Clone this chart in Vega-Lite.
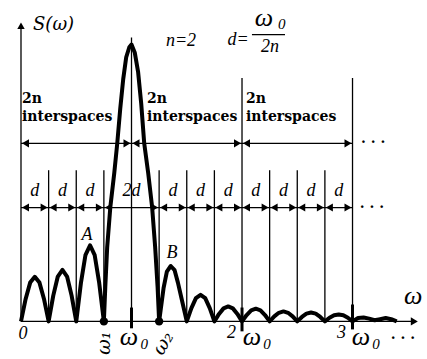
{
  "$schema": "https://vega.github.io/schema/vega-lite/v6.json",
  "width": 427,
  "height": 359,
  "autosize": {"type": "fit", "contains": "padding"},
  "padding": 0,
  "background": "white",
  "config": {"view": {"stroke": null}},
  "datasets": {
    "curve": [
      {"x":0,"s":0},{"x":0.042,"s":0.081},{"x":0.083,"s":0.14},{"x":0.125,"s":0.161},{"x":0.167,"s":0.14},{"x":0.208,"s":0.081},{"x":0.25,"s":0},
      {"x":0.292,"s":0.093},{"x":0.333,"s":0.162},{"x":0.375,"s":0.186},{"x":0.417,"s":0.162},{"x":0.458,"s":0.093},{"x":0.5,"s":0},
      {"x":0.542,"s":0.138},{"x":0.583,"s":0.239},{"x":0.625,"s":0.275},{"x":0.667,"s":0.239},{"x":0.708,"s":0.138},{"x":0.75,"s":0},
      {"x":0.763,"s":0.125},{"x":0.78,"s":0.268},{"x":0.808,"s":0.411},{"x":0.844,"s":0.536},{"x":0.871,"s":0.643},{"x":0.898,"s":0.768},{"x":0.925,"s":0.875},{"x":0.952,"s":0.954},{"x":0.98,"s":0.99},{"x":1.0,"s":1.0},{"x":1.03,"s":0.97},{"x":1.06,"s":0.9},{"x":1.088,"s":0.786},{"x":1.115,"s":0.643},{"x":1.151,"s":0.536},{"x":1.187,"s":0.411},{"x":1.214,"s":0.268},{"x":1.236,"s":0.125},{"x":1.25,"s":0},
      {"x":1.29,"s":0.12},{"x":1.32,"s":0.18},{"x":1.355,"s":0.2},{"x":1.39,"s":0.185},{"x":1.42,"s":0.14},{"x":1.46,"s":0.07},{"x":1.5,"s":0},
      {"x":1.542,"s":0.048},{"x":1.583,"s":0.084},{"x":1.625,"s":0.096},{"x":1.667,"s":0.084},{"x":1.708,"s":0.048},{"x":1.75,"s":0},
      {"x":1.792,"s":0.027},{"x":1.833,"s":0.047},{"x":1.875,"s":0.054},{"x":1.917,"s":0.047},{"x":1.958,"s":0.027},{"x":2.0,"s":0},
      {"x":2.042,"s":0.023},{"x":2.083,"s":0.04},{"x":2.125,"s":0.046},{"x":2.167,"s":0.04},{"x":2.208,"s":0.023},{"x":2.25,"s":0},
      {"x":2.292,"s":0.018},{"x":2.333,"s":0.031},{"x":2.375,"s":0.036},{"x":2.417,"s":0.031},{"x":2.458,"s":0.018},{"x":2.5,"s":0},
      {"x":2.542,"s":0.016},{"x":2.583,"s":0.028},{"x":2.625,"s":0.032},{"x":2.667,"s":0.028},{"x":2.708,"s":0.016},{"x":2.75,"s":0},
      {"x":2.792,"s":0.013},{"x":2.833,"s":0.022},{"x":2.875,"s":0.025},{"x":2.917,"s":0.022},{"x":2.958,"s":0.013},{"x":3.0,"s":0},
      {"x":3.05,"s":0.012},{"x":3.1,"s":0.014},{"x":3.15,"s":0.01},{"x":3.2,"s":0.004},{"x":3.25,"s":0.008},{"x":3.3,"s":0.012},{"x":3.35,"s":0.008},{"x":3.4,"s":0}
    ],
    "rules": [
      {"x":0,"x2":0,"s":0,"s2":1.07},
      {"x":0,"x2":3.57,"s":0,"s2":0},
      {"x":0,"x2":3,"s":0.643,"s2":0.643},
      {"x":0,"x2":3,"s":0.411,"s2":0.411},
      {"x":2.09,"x2":2.389,"s":1.036,"s2":1.036},
      {"x":0.25,"x2":0.25,"s":0,"s2":0.546},
      {"x":0.5,"x2":0.5,"s":0,"s2":0.546},
      {"x":0.75,"x2":0.75,"s":0,"s2":0.546},
      {"x":1.25,"x2":1.25,"s":0,"s2":0.546},
      {"x":1.5,"x2":1.5,"s":0,"s2":0.546},
      {"x":1.75,"x2":1.75,"s":0,"s2":0.546},
      {"x":2.25,"x2":2.25,"s":0,"s2":0.546},
      {"x":2.5,"x2":2.5,"s":0,"s2":0.546},
      {"x":2.75,"x2":2.75,"s":0,"s2":0.546},
      {"x":1,"x2":1,"s":0,"s2":1.025},
      {"x":2,"x2":2,"s":0,"s2":0.879},
      {"x":3,"x2":3,"s":0,"s2":0.879}
    ],
    "thick": [
      {"x":1,"s":0.05,"s2":-0.025},
      {"x":2,"s":0.05,"s2":-0.036},
      {"x":3,"s":0.061,"s2":-0.029}
    ],
    "arrL": [
      {"x":0,"s":0.643},{"x":1,"s":0.643},{"x":2,"s":0.643},
      {"x":0,"s":0.411},{"x":0.25,"s":0.411},{"x":0.5,"s":0.411},{"x":0.75,"s":0.411},{"x":1.25,"s":0.411},{"x":1.5,"s":0.411},{"x":1.75,"s":0.411},{"x":2,"s":0.411},{"x":2.25,"s":0.411},{"x":2.5,"s":0.411},{"x":2.75,"s":0.411}
    ],
    "arrR": [
      {"x":1,"s":0.643},{"x":2,"s":0.643},{"x":3,"s":0.643},
      {"x":0.25,"s":0.411},{"x":0.5,"s":0.411},{"x":0.75,"s":0.411},{"x":1.25,"s":0.411},{"x":1.5,"s":0.411},{"x":1.75,"s":0.411},{"x":2,"s":0.411},{"x":2.25,"s":0.411},{"x":2.5,"s":0.411},{"x":2.75,"s":0.411},{"x":3,"s":0.411},
      {"x":3.6,"s":0}
    ],
    "arrU": [{"x":0,"s":1.082}],
    "dots": [{"x":0.75,"s":0},{"x":1.25,"s":0}],
    "t16": [
      {"x":0.125,"s":0.471,"t":"d"},{"x":0.375,"s":0.471,"t":"d"},{"x":0.625,"s":0.471,"t":"d"},
      {"x":1.0,"s":0.471,"t":"2d"},
      {"x":1.375,"s":0.471,"t":"d"},{"x":1.625,"s":0.471,"t":"d"},{"x":1.875,"s":0.471,"t":"d"},
      {"x":2.125,"s":0.471,"t":"d"},{"x":2.375,"s":0.471,"t":"d"},{"x":2.625,"s":0.471,"t":"d"},{"x":2.875,"s":0.471,"t":"d"},
      {"x":0.597,"s":0.311,"t":"A"},{"x":1.367,"s":0.246,"t":"B"},
      {"x":0.018,"s":-0.046,"t":"0"},
      {"x":1.448,"s":1.014,"t":"n=2"},
      {"x":1.964,"s":1.018,"t":"d="},
      {"x":2.253,"s":0.99,"t":"2n"},
      {"x":1.905,"s":-0.043,"t":"2"},
      {"x":2.9,"s":-0.043,"t":"3"}
    ],
    "t20": [
      {"x":2.199,"s":1.095,"t":"ω"},
      {"x":0.977,"s":-0.058,"t":"ω"},
      {"x":2.09,"s":-0.058,"t":"ω"},
      {"x":3.077,"s":-0.058,"t":"ω"},
      {"x":3.548,"s":0.09,"t":"ω"}
    ],
    "t12": [
      {"x":2.36,"s":1.074,"t":"0"},
      {"x":1.115,"s":-0.082,"t":"0"},
      {"x":2.225,"s":-0.082,"t":"0"},
      {"x":3.212,"s":-0.082,"t":"0"}
    ],
    "rot1": [{"x":0.75,"s":-0.079,"t":"ω₁"}],
    "rot2": [{"x":1.285,"s":-0.079,"t":"ω₂"}],
    "bold": [
      {"x":0.009,"s":0.804,"t":"2n"},{"x":0.009,"s":0.739,"t":"interspaces"},
      {"x":1.14,"s":0.804,"t":"2n"},{"x":1.14,"s":0.739,"t":"interspaces"},
      {"x":2.036,"s":0.804,"t":"2n"},{"x":2.036,"s":0.739,"t":"interspaces"}
    ],
    "ell": [
      {"x":3.186,"s":0.643,"t":"· · ·"},
      {"x":3.176,"s":0.411,"t":"· · ·"},
      {"x":3.457,"s":-0.064,"t":"· · ·"}
    ],
    "slabel": [{"x":0.109,"s":1.071,"t":"S(ω)"}]
  },
  "layer": [
    {
      "data": {"name": "rules"},
      "mark": {"type": "rule", "color": "black", "strokeWidth": 1.3},
      "encoding": {
        "x": {"field": "x", "type": "quantitative", "scale": {"domain": [-0.19, 3.674], "nice": false, "zero": false}, "axis": null},
        "x2": {"field": "x2"},
        "y": {"field": "s", "type": "quantitative", "scale": {"domain": [-0.1214, 1.1607], "nice": false, "zero": false}, "axis": null},
        "y2": {"field": "s2"}
      }
    },
    {
      "data": {"name": "thick"},
      "mark": {"type": "rule", "color": "black", "strokeWidth": 3},
      "encoding": {
        "x": {"field": "x", "type": "quantitative", "scale": {"domain": [-0.19, 3.674], "nice": false, "zero": false}, "axis": null},
        "y": {"field": "s", "type": "quantitative", "scale": {"domain": [-0.1214, 1.1607], "nice": false, "zero": false}, "axis": null},
        "y2": {"field": "s2"}
      }
    },
    {
      "data": {"name": "curve"},
      "mark": {"type": "line", "color": "black", "strokeWidth": 4, "strokeJoin": "round"},
      "encoding": {
        "x": {"field": "x", "type": "quantitative", "scale": {"domain": [-0.19, 3.674], "nice": false, "zero": false}, "axis": null},
        "y": {"field": "s", "type": "quantitative", "scale": {"domain": [-0.1214, 1.1607], "nice": false, "zero": false}, "axis": null}
      }
    },
    {
      "data": {"name": "arrL"},
      "mark": {"type": "point", "shape": "triangle-left", "filled": true, "color": "black", "opacity": 1, "size": 65, "xOffset": 4.5},
      "encoding": {
        "x": {"field": "x", "type": "quantitative", "scale": {"domain": [-0.19, 3.674], "nice": false, "zero": false}, "axis": null},
        "y": {"field": "s", "type": "quantitative", "scale": {"domain": [-0.1214, 1.1607], "nice": false, "zero": false}, "axis": null}
      }
    },
    {
      "data": {"name": "arrR"},
      "mark": {"type": "point", "shape": "triangle-right", "filled": true, "color": "black", "opacity": 1, "size": 65, "xOffset": -4.5},
      "encoding": {
        "x": {"field": "x", "type": "quantitative", "scale": {"domain": [-0.19, 3.674], "nice": false, "zero": false}, "axis": null},
        "y": {"field": "s", "type": "quantitative", "scale": {"domain": [-0.1214, 1.1607], "nice": false, "zero": false}, "axis": null}
      }
    },
    {
      "data": {"name": "arrU"},
      "mark": {"type": "point", "shape": "triangle-up", "filled": true, "color": "black", "opacity": 1, "size": 55, "yOffset": 4},
      "encoding": {
        "x": {"field": "x", "type": "quantitative", "scale": {"domain": [-0.19, 3.674], "nice": false, "zero": false}, "axis": null},
        "y": {"field": "s", "type": "quantitative", "scale": {"domain": [-0.1214, 1.1607], "nice": false, "zero": false}, "axis": null}
      }
    },
    {
      "data": {"name": "dots"},
      "mark": {"type": "point", "shape": "circle", "filled": true, "color": "black", "opacity": 1, "size": 70},
      "encoding": {
        "x": {"field": "x", "type": "quantitative", "scale": {"domain": [-0.19, 3.674], "nice": false, "zero": false}, "axis": null},
        "y": {"field": "s", "type": "quantitative", "scale": {"domain": [-0.1214, 1.1607], "nice": false, "zero": false}, "axis": null}
      }
    },
    {
      "data": {"name": "t16"},
      "mark": {"type": "text", "font": "Liberation Serif", "fontStyle": "italic", "fontSize": 18, "color": "black", "align": "center", "baseline": "middle"},
      "encoding": {
        "x": {"field": "x", "type": "quantitative", "scale": {"domain": [-0.19, 3.674], "nice": false, "zero": false}, "axis": null},
        "y": {"field": "s", "type": "quantitative", "scale": {"domain": [-0.1214, 1.1607], "nice": false, "zero": false}, "axis": null},
        "text": {"field": "t"}
      }
    },
    {
      "data": {"name": "t20"},
      "mark": {"type": "text", "font": "Liberation Serif", "fontStyle": "italic", "fontSize": 26, "color": "black", "align": "center", "baseline": "middle"},
      "encoding": {
        "x": {"field": "x", "type": "quantitative", "scale": {"domain": [-0.19, 3.674], "nice": false, "zero": false}, "axis": null},
        "y": {"field": "s", "type": "quantitative", "scale": {"domain": [-0.1214, 1.1607], "nice": false, "zero": false}, "axis": null},
        "text": {"field": "t"}
      }
    },
    {
      "data": {"name": "t12"},
      "mark": {"type": "text", "font": "Liberation Serif", "fontStyle": "italic", "fontSize": 15, "color": "black", "align": "center", "baseline": "middle"},
      "encoding": {
        "x": {"field": "x", "type": "quantitative", "scale": {"domain": [-0.19, 3.674], "nice": false, "zero": false}, "axis": null},
        "y": {"field": "s", "type": "quantitative", "scale": {"domain": [-0.1214, 1.1607], "nice": false, "zero": false}, "axis": null},
        "text": {"field": "t"}
      }
    },
    {
      "data": {"name": "rot1"},
      "mark": {"type": "text", "font": "DejaVu Serif", "fontStyle": "italic", "fontSize": 19, "color": "black", "align": "center", "baseline": "middle", "angle": 270},
      "encoding": {
        "x": {"field": "x", "type": "quantitative", "scale": {"domain": [-0.19, 3.674], "nice": false, "zero": false}, "axis": null},
        "y": {"field": "s", "type": "quantitative", "scale": {"domain": [-0.1214, 1.1607], "nice": false, "zero": false}, "axis": null},
        "text": {"field": "t"}
      }
    },
    {
      "data": {"name": "rot2"},
      "mark": {"type": "text", "font": "DejaVu Serif", "fontStyle": "italic", "fontSize": 19, "color": "black", "align": "center", "baseline": "middle", "angle": 300},
      "encoding": {
        "x": {"field": "x", "type": "quantitative", "scale": {"domain": [-0.19, 3.674], "nice": false, "zero": false}, "axis": null},
        "y": {"field": "s", "type": "quantitative", "scale": {"domain": [-0.1214, 1.1607], "nice": false, "zero": false}, "axis": null},
        "text": {"field": "t"}
      }
    },
    {
      "data": {"name": "bold"},
      "mark": {"type": "text", "font": "DejaVu Serif", "fontWeight": "bold", "fontSize": 14, "color": "black", "align": "left", "baseline": "middle"},
      "encoding": {
        "x": {"field": "x", "type": "quantitative", "scale": {"domain": [-0.19, 3.674], "nice": false, "zero": false}, "axis": null},
        "y": {"field": "s", "type": "quantitative", "scale": {"domain": [-0.1214, 1.1607], "nice": false, "zero": false}, "axis": null},
        "text": {"field": "t"}
      }
    },
    {
      "data": {"name": "ell"},
      "mark": {"type": "text", "font": "DejaVu Serif", "fontWeight": "bold", "fontSize": 14, "color": "black", "align": "center", "baseline": "middle"},
      "encoding": {
        "x": {"field": "x", "type": "quantitative", "scale": {"domain": [-0.19, 3.674], "nice": false, "zero": false}, "axis": null},
        "y": {"field": "s", "type": "quantitative", "scale": {"domain": [-0.1214, 1.1607], "nice": false, "zero": false}, "axis": null},
        "text": {"field": "t"}
      }
    },
    {
      "data": {"name": "slabel"},
      "mark": {"type": "text", "font": "DejaVu Serif", "fontStyle": "italic", "fontSize": 18, "color": "black", "align": "left", "baseline": "middle"},
      "encoding": {
        "x": {"field": "x", "type": "quantitative", "scale": {"domain": [-0.19, 3.674], "nice": false, "zero": false}, "axis": null},
        "y": {"field": "s", "type": "quantitative", "scale": {"domain": [-0.1214, 1.1607], "nice": false, "zero": false}, "axis": null},
        "text": {"field": "t"}
      }
    }
  ]
}
